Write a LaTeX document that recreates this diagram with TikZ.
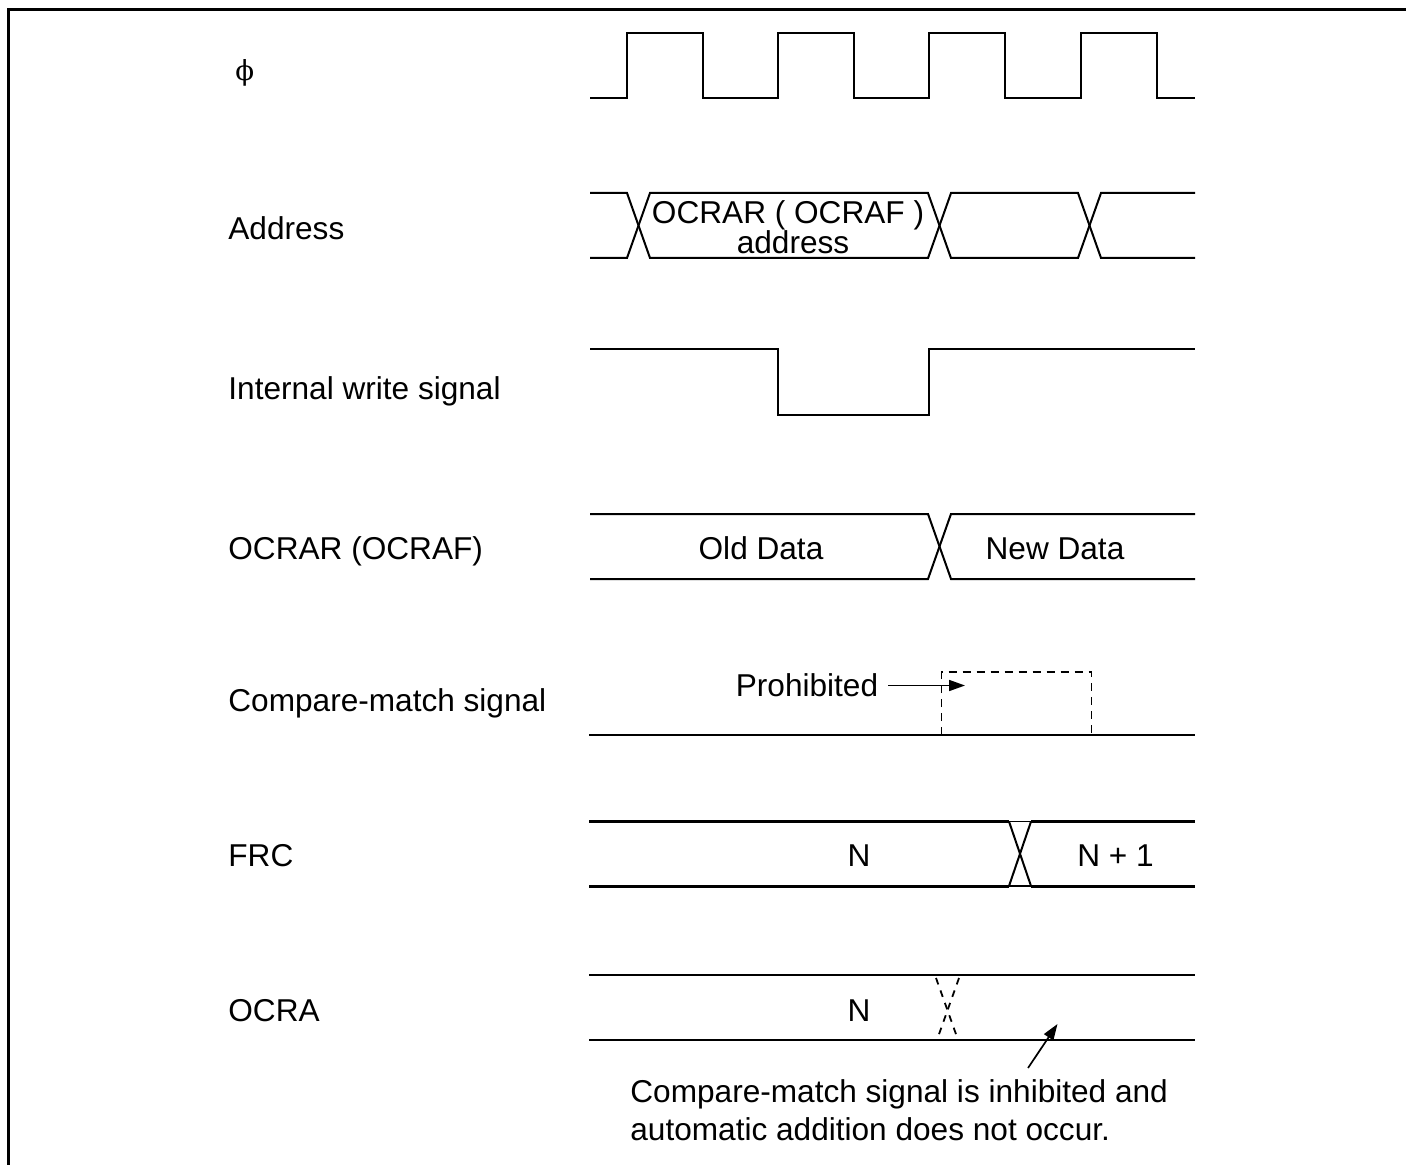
\documentclass[tikz,border=0pt]{standalone}
\usepackage{fontspec}
\setmainfont{Liberation Sans}
\usetikzlibrary{arrows.meta}
\tikzset{
  sig/.style={line width=1pt,line join=miter},
  thicksig/.style={line width=1.5pt},
  frameline/.style={line width=1.7pt},
  dashline/.style={line width=0.6pt,dash pattern=on 4pt off 3pt},
  crossdash/.style={line width=0.9pt,dash pattern=on 3.4pt off 3.2pt},
  lbl/.style={inner sep=0pt,font=\fontsize{15.8pt}{15.8pt}\selectfont},
  ptr/.style={line width=0.85pt,-{Triangle[length=8pt,width=5.5pt]}}
}
\begin{document}
\begin{tikzpicture}[x=0.5pt,y=-0.5pt]
\useasboundingbox (0,0) rectangle (1406,1165);
% frame
\coordinate (fa) at (8.5,1165); \coordinate (fb) at (8.5,9.5); \coordinate (fc) at (1406,9.5);
\draw[frameline] (fa) -- (fb) -- (fc);
% labels
\node[lbl,anchor=base west] (l1) at (235,81) {\fontspec{DejaVu Serif}\fontsize{13.8pt}{13.8pt}\selectfont ϕ};
\node[lbl,anchor=base west] (l2) at (228,240) {Address};
\node[lbl,anchor=base west] (l3) at (228,400) {Internal write signal};
\node[lbl,anchor=base west] (l4) at (228,559) {OCRAR (OCRAF)};
\node[lbl,anchor=base west] (l5) at (228,711) {Compare-match signal};
\node[lbl,anchor=base west] (l6) at (228,866) {FRC};
\node[lbl,anchor=base west] (l7) at (228,1021) {OCRA};
% phi
\draw[sig] (590,98.5) -- (627,98.5) -- (627,33) -- (702.5,33) -- (702.5,98.5) -- (778,98.5) -- (778,33) -- (854,33) -- (854,98.5) -- (929,98.5) -- (929,33) -- (1005,33) -- (1005,98.5) -- (1081,98.5) -- (1081,33) -- (1157,33) -- (1157,98.5) -- (1195,98.5);
% address
\draw[sig] (590,193) -- (627,193) -- (650,258) -- (928,258) -- (951,193) -- (1078,193) -- (1101,258) -- (1195,258);
\draw[sig] (590,258) -- (627,258) -- (650,193) -- (928,193) -- (951,258) -- (1078,258) -- (1101,193) -- (1195,193);
\node[lbl,anchor=base] (a1) at (788,224) {OCRAR ( OCRAF )};
\node[lbl,anchor=base] (a2) at (793,254) {address};
% write
\draw[sig] (590,349) -- (778,349) -- (778,415) -- (929,415) -- (929,349) -- (1195,349);
% ocrar
\draw[sig] (590,514) -- (928,514) -- (951,579) -- (1195,579);
\draw[sig] (590,579) -- (928,579) -- (951,514) -- (1195,514);
\node[lbl,anchor=base] (d1) at (761,559) {Old Data};
\node[lbl,anchor=base] (d2) at (1055,559) {New Data};
% compare match
\draw[sig] (589,735) -- (1195,735);
\draw[dashline] (941.5,735) -- (941.5,672) -- (1091.5,672) -- (1091.5,735);
\node[lbl,anchor=base] (p) at (807,696) {Prohibited};
\coordinate (ps) at (888,685.5);
\coordinate (pe) at (965,685.5);
\draw[ptr] (ps) -- (pe);
% FRC
\draw[thicksig] (589,821.5) -- (1009,821.5);
\draw[thicksig] (1031,821.5) -- (1195,821.5);
\draw[thicksig] (589,886) -- (1009,886);
\draw[thicksig] (1031,886) -- (1195,886);
\draw[sig] (1009,821.5) -- (1031,886);
\draw[sig] (1031,821.5) -- (1009,886);
\draw[line width=0.6pt] (1009,821.5) -- (1031,821.5);
\draw[line width=0.6pt] (1009,886) -- (1031,886);
\node[lbl,anchor=base] (n1) at (859,866) {N};
\node[lbl,anchor=base] (n2) at (1115.5,866) {N + 1};
% OCRA
\draw[sig] (589,974.5) -- (1195,974.5);
\draw[sig] (589,1039.5) -- (1195,1039.5);
\draw[crossdash] (936,978) -- (957,1037);
\draw[crossdash] (959,978) -- (938,1037);
\node[lbl,anchor=base] (o1) at (859,1021) {N};
\coordinate (qs) at (1028,1068);
\coordinate (qe) at (1057.5,1024);
\draw[ptr] (qs) -- (qe);
\node[lbl,anchor=base west] (c1) at (630,1102) {Compare-match signal is inhibited and};
\node[lbl,anchor=base west] (c2) at (630,1140) {automatic addition does not occur.};
\end{tikzpicture}
\end{document}
